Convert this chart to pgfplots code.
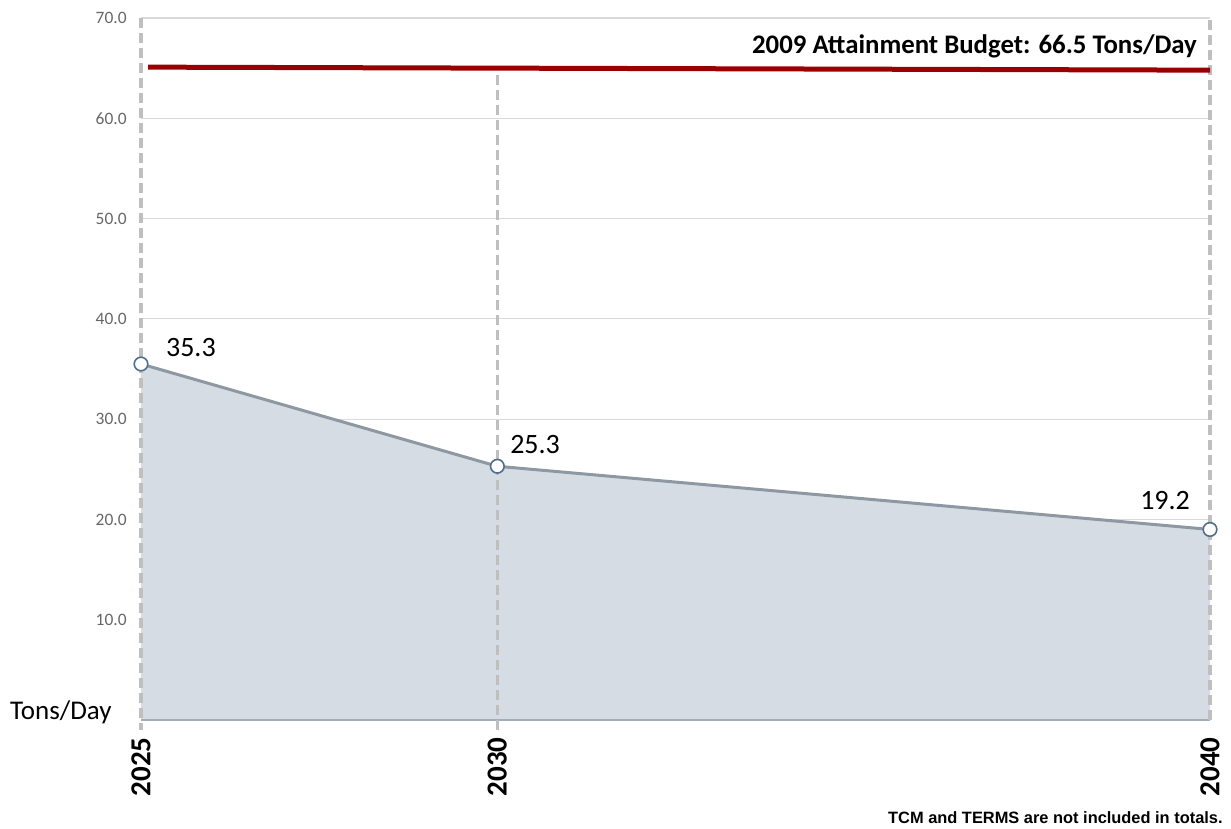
\documentclass[border=0pt]{standalone}
\usepackage{pgfplots}
\pgfplotsset{compat=1.18}
\usepackage{fontspec}
\setmainfont{Carlito}
\newfontfamily\footfont{Liberation Sans}
\definecolor{gridgray}{HTML}{D9D9D9}
\definecolor{dashgray}{HTML}{BFBFBF}
\definecolor{areafill}{HTML}{D6DCE4}
\definecolor{arealine}{HTML}{8E98A3}
\definecolor{markedge}{HTML}{4F6F8F}
\definecolor{budgetred}{HTML}{990000}
\definecolor{ticktext}{HTML}{666666}
\begin{document}
\begin{tikzpicture}
\begin{axis}[
  name=main,
  at={(0,0)}, anchor=south west,
  scale only axis,
  width=534.5pt, height=351pt,
  xmin=2025, xmax=2040, ymin=0, ymax=70,
  axis line style={draw=none},
  tick style={draw=none},
  ytick={10,20,...,70},
  /pgf/number format/assume math mode=true,
  yticklabel style={/pgf/number format/fixed, /pgf/number format/fixed zerofill, /pgf/number format/precision=1},
  yticklabel style={text=ticktext, font=\fontsize{8.7}{10}\selectfont, inner sep=0pt, xshift=-7pt},
  ymajorgrids,
  grid style={gridgray, line width=0.6pt},
  xtick={2025,2030,2040},
  xticklabels={2025,2030,2040},
  xticklabel style={font=\bfseries\fontsize{14.5}{15}\selectfont, inner sep=0pt, yshift=-8.5pt, rotate=90, anchor=east},
  clip=false,
]
% area fill
\addplot[fill=areafill, draw=none, forget plot] coordinates {(2025,35.5) (2030,25.3) (2040,19.0)} \closedcycle;
\draw[arealine!80, line width=0.8pt] (axis cs:2025,0) -- (axis cs:2040,0);
% vertical dashed lines
\draw[dashgray, line width=1.6pt, dash pattern=on 5pt off 2.5pt] (axis cs:2025,70) -- (axis cs:2025,-1);
\draw[dashgray, line width=1.6pt, dash pattern=on 5pt off 2.5pt] (axis cs:2030,64.3) -- (axis cs:2030,-1);
\draw[dashgray, line width=1.6pt, dash pattern=on 5pt off 2.5pt] (axis cs:2040,69.8) -- (axis cs:2040,0);
% budget line
\addplot[budgetred, line width=2.5pt, forget plot] coordinates {(2025.1,65.1) (2040,64.8)};
% series line
\addplot[arealine, line width=1.5pt, mark=*, mark size=3.4pt, mark options={fill=white, draw=markedge, line width=0.8pt}] coordinates {(2025,35.5) (2030,25.3) (2040,19.0)};
% labels
\node[font=\fontsize{14}{16}\selectfont] at (axis cs:2025.70,37.1) {35.3};
\node[font=\fontsize{14}{16}\selectfont] at (axis cs:2030.53,27.5) {25.3};
\node[font=\fontsize{14}{16}\selectfont] at (axis cs:2039.37,21.9) {19.2};
\node[font=\bfseries\fontsize{13.4}{15}\selectfont, anchor=east, inner sep=0pt] at (axis cs:2039.82,67.2) {2009 Attainment Budget: 66.5 Tons/Day};
\node[font=\fontsize{13.5}{15}\selectfont, anchor=east, inner sep=0pt] at ([xshift=-14.5pt, yshift=4pt]axis cs:2025,0) {Tons/Day};
\node[font=\footfont\bfseries\fontsize{8.2}{9}\selectfont, anchor=east, inner sep=0pt] at ([xshift=6.5pt, yshift=-49pt]axis cs:2040,0) {TCM and TERMS are not included in totals.};
\end{axis}
\pgfresetboundingbox
\useasboundingbox (-70.5pt,-54.5pt) rectangle (545pt,360pt);
\end{tikzpicture}
\end{document}
